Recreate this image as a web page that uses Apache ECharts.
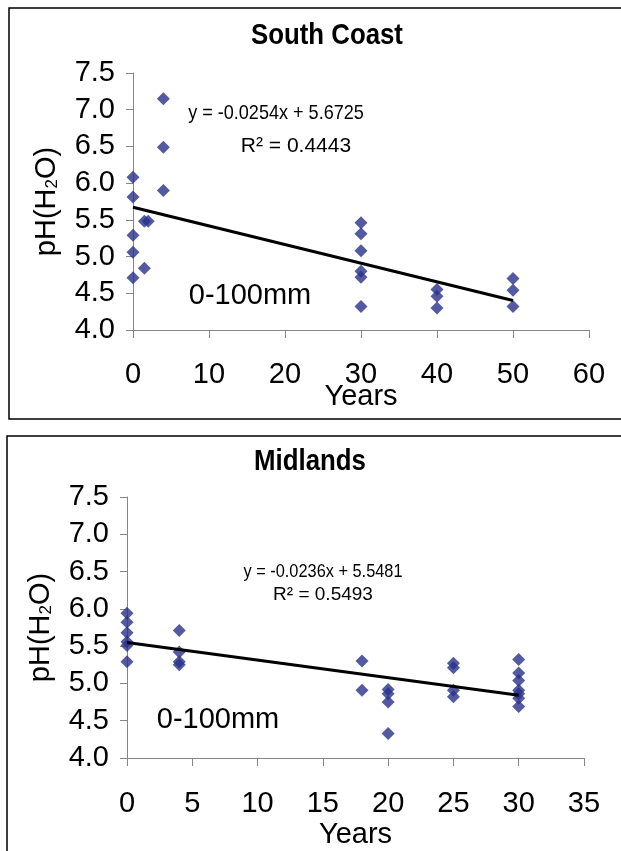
<!DOCTYPE html>
<html>
<head>
<meta charset="utf-8">
<script src="https://cdn.jsdelivr.net/npm/echarts@6/dist/echarts.min.js"></script>
<style>
  html, body { margin: 0; padding: 0; background: #fff; }
  #chart { width: 621px; height: 851px; }
</style>
</head>
<body>
<div id="chart"></div>
<script>
// Soil pH (H2O), 0-100 mm depth, against years since conversion.
const FONT = "'Liberation Sans', Arial, sans-serif";

// South Coast sites
const southYears = [0, 0, 0, 0, 0, 1.5, 2, 1.5, 4, 4, 4,
                    30, 30, 30, 30, 30, 30, 40, 40, 40, 50, 50, 50];
const southPH    = [6.08, 5.81, 5.29, 5.06, 4.71, 5.48, 5.48, 4.84, 7.15, 6.49, 5.90,
                    5.46, 5.31, 5.08, 4.80, 4.72, 4.32, 4.55, 4.46, 4.30, 4.70, 4.54, 4.32];
const southSlope = -0.0254;
const southIntercept = 5.6725;
const southR2 = '0.4443';
const southTrendRange = [0, 50];
const southXTicks = [0, 60, 10];   // min, max, step

// Midlands sites
const midYears = [0, 0, 0, 0, 0, 0, 4, 4, 4, 4, 18, 18, 20, 20, 20, 20,
                  25, 25, 25, 25, 30, 30, 30, 30, 30, 30, 30];
const midPH    = [5.94, 5.82, 5.68, 5.56, 5.51, 5.29, 5.71, 5.42, 5.29, 5.25, 5.30, 4.91,
                  4.92, 4.86, 4.75, 4.33, 5.27, 5.21, 4.91, 4.82,
                  5.32, 5.14, 5.04, 4.91, 4.86, 4.80, 4.69];
const midSlope = -0.0236;
const midIntercept = 5.5481;
const midR2 = '0.5493';
const midTrendRange = [0, 30];
const midXTicks = [0, 35, 5];

const yTicks = [4.0, 7.5, 0.5];    // shared pH scale

const depthLabel = '0-100mm';
const titles = ['South Coast', 'Midlands'];

const MARK = '#283189';
const AXIS = '#868686';

function pairs(xs, ys) { return xs.map((x, i) => [x, ys[i]]); }
function trend(range, m, b) { return range.map(x => [x, b + m * x]); }
function eqText(m, b) { return 'y = ' + m.toFixed(4) + 'x + ' + b.toFixed(4); }

function xAxisFor(idx, ticks, margin, gap) {
  return {
    gridIndex: idx, type: 'value', min: ticks[0], max: ticks[1], interval: ticks[2],
    axisLine: { show: true, onZero: false, lineStyle: { color: AXIS, width: 1 } },
    axisTick: { show: true, length: 8, lineStyle: { color: AXIS, width: 1 } },
    splitLine: { show: false },
    axisLabel: { fontFamily: FONT, fontSize: 29, color: '#000', margin: margin },
    name: 'Years', nameLocation: 'middle', nameGap: gap, nameMoveOverlap: false,
    nameTextStyle: { fontFamily: FONT, fontSize: 29, color: '#000' }
  };
}
function yAxisFor(idx) {
  return {
    gridIndex: idx, type: 'value', min: yTicks[0], max: yTicks[1], interval: yTicks[2],
    axisLine: { show: true, onZero: false, lineStyle: { color: AXIS, width: 1 } },
    axisTick: { show: true, length: 7, lineStyle: { color: AXIS, width: 1 } },
    splitLine: { show: false },
    axisLabel: { fontFamily: FONT, fontSize: 29, color: '#000', margin: 18,
                 formatter: v => v.toFixed(1) },
    name: 'pH(H{s|2}O)', nameLocation: 'middle', nameGap: 72, nameRotate: 90,
    nameTextStyle: {
      fontFamily: FONT, fontSize: 29, color: '#000',
      rich: { s: { fontFamily: FONT, fontSize: 17, color: '#000', verticalAlign: 'bottom' } }
    }
  };
}

// Free-standing text, optionally condensed horizontally
function label(x, y, text, size, opts) {
  opts = opts || {};
  return {
    type: 'text', x: x, y: y, scaleX: opts.scaleX || 1, silent: true,
    style: {
      text: text, fontFamily: FONT, fontSize: size,
      fontWeight: opts.bold ? 'bold' : 'normal', fill: '#000',
      align: 'center', verticalAlign: 'middle'
    }
  };
}

const chart = echarts.init(document.getElementById('chart'), null, { renderer: 'canvas' });

chart.setOption({
  animation: false,
  backgroundColor: '#fff',
  grid: [
    { left: 133, top: 73, width: 456, height: 257 },
    { left: 127, top: 497, width: 457, height: 261 }
  ],
  xAxis: [xAxisFor(0, southXTicks, 30, 52), xAxisFor(1, midXTicks, 31, 62)],
  yAxis: [yAxisFor(0), yAxisFor(1)],
  series: [
    { type: 'scatter', xAxisIndex: 0, yAxisIndex: 0, data: pairs(southYears, southPH),
      symbol: 'diamond', symbolSize: 13, itemStyle: { color: MARK }, z: 2 },
    { type: 'line', xAxisIndex: 0, yAxisIndex: 0, data: trend(southTrendRange, southSlope, southIntercept),
      symbol: 'none', lineStyle: { color: '#000', width: 3 }, z: 3 },
    { type: 'scatter', xAxisIndex: 1, yAxisIndex: 1, data: pairs(midYears, midPH),
      symbol: 'diamond', symbolSize: 13, itemStyle: { color: MARK }, z: 2 },
    { type: 'line', xAxisIndex: 1, yAxisIndex: 1, data: trend(midTrendRange, midSlope, midIntercept),
      symbol: 'none', lineStyle: { color: '#000', width: 3 }, z: 3 }
  ],
  graphic: [
    // panel frames
    { type: 'rect', shape: { x: 9, y: 8, width: 700, height: 411 },
      style: { fill: 'none', stroke: '#000', lineWidth: 1.5 }, silent: true },
    { type: 'rect', shape: { x: 7, y: 436, width: 700, height: 500 },
      style: { fill: 'none', stroke: '#000', lineWidth: 1.5 }, silent: true },
    // panel titles
    label(327, 36, titles[0], 30, { bold: true, scaleX: 0.86 }),
    label(310, 462, titles[1], 30, { bold: true, scaleX: 0.86 }),
    // regression annotations
    label(276, 113, eqText(southSlope, southIntercept), 21, { scaleX: 0.86 }),
    label(296, 146, 'R² = ' + southR2, 21),
    label(323, 572, eqText(midSlope, midIntercept), 19, { scaleX: 0.86 }),
    label(323, 595, 'R² = ' + midR2, 19),
    // depth labels
    label(250, 296, depthLabel, 29),
    label(218, 720, depthLabel, 29)
  ]
});
</script>
</body>
</html>
